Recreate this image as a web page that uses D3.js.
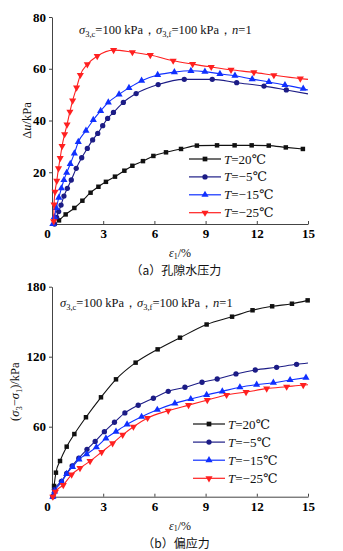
<!DOCTYPE html>
<html>
<head>
<meta charset="utf-8">
<script src="https://cdn.jsdelivr.net/npm/d3@7"></script>
<style>
  body { margin: 0; background: #fff; }
  svg { display: block; }
  .axis path, .axis line { stroke: #444; stroke-width: 1; }
</style>
</head>
<body>
<svg id="chart" width="343" height="551"></svg>
<script>
// temperatures shown in both panels
const temps = ["20", "−5", "−15", "−25"];
const strainTicks = [0, 3, 6, 9, 12, 15];
const duTicks = [20, 40, 60, 80];
const devTicks = [60, 120, 180];

// (a) pore water pressure Δu vs axial strain, [ε1 %, kPa]
const du20 = [[0.41,1.4],[0.8,3.7],[1.31,6.2],[1.78,9.0],[2.26,12.1],[2.72,14.4],[3.16,16.3],[3.69,18.3],
  [4.24,20.6],[4.71,22.5],[5.33,24.3],[5.94,26.3],[6.68,27.7],[7.56,29.0],[8.49,30.3],[9.67,30.4],
  [10.7,30.4],[11.7,30.4],[12.7,30.3],[13.7,29.6],[14.7,29.0]];
const duM5 = [[0.15,0],[0.27,2.6],[0.39,4.8],[0.53,7.3],[0.7,10.8],[0.9,13.8],[1.13,17.0],[1.42,21.5],
  [1.74,25.6],[2.07,29.2],[2.38,32.5],[2.68,35.0],[2.97,38.0],[3.26,40.8],[3.6,43.1],[4.18,47.0],
  [4.93,50.4],[6.22,53.9],[7.75,55.9],[9.39,55.9],[10.82,54.6],[12.42,53.3],[13.73,51.8],[15,50.3]];
const duM15 = [[0.05,0],[0.14,2.7],[0.25,6.2],[0.4,10.2],[0.55,13.8],[0.7,17.0],[0.86,19.8],[1.07,23.2],
  [1.31,27.3],[1.54,31.7],[1.99,36.1],[2.42,40.2],[2.85,43.7],[3.3,47.0],[3.93,50.1],[4.51,52.6],
  [5.25,55.4],[6.19,57.6],[7.17,58.7],[8.14,59.2],[8.96,58.9],[9.84,58.0],[10.72,57.3],[11.73,56.0],
  [12.71,54.9],[13.65,53.7],[14.72,52.3],[15,51.8]];
const duM25 = [[0.1,1],[0.12,7.5],[0.18,12.4],[0.28,16.7],[0.38,21.5],[0.48,25.5],[0.59,30.1],[0.74,34.7],
  [0.88,38.4],[1.05,43.4],[1.21,47.7],[1.44,52.7],[1.66,57.6],[2.07,61.7],[2.65,64.9],[3.61,67.2],
  [4.71,66.4],[5.76,65.3],[7.1,63.1],[8.24,61.8],[9.33,60.7],[10.49,59.6],[11.83,58.6],[13.0,57.5],
  [14.55,56.2],[15,55.9]];

// (b) deviator stress (σ3−σ1) vs axial strain, [ε1 %, kPa]
const dev20 = [[0.05,0],[0.12,9.2],[0.23,20.6],[0.47,30.6],[0.86,42.9],[1.31,53.7],[1.99,68.1],[2.87,85.2],
  [3.75,100.6],[4.9,114.9],[6.19,126.3],[7.5,136.3],[9.06,147.6],[10.55,154.3],[11.75,159.8],
  [12.9,163.2],[14.06,165.4],[14.98,168.3]];
const devM5 = [[0.05,0],[0.14,6.3],[0.55,13.2],[0.86,20.0],[1.18,26.5],[1.57,33.0],[2.05,40.6],[2.53,47.4],
  [3.07,55.7],[3.66,63.8],[4.27,71.8],[5.05,78.4],[5.94,84.4],[6.81,90.3],[7.79,93.8],[8.79,98.1],
  [9.68,100.9],[10.78,105.2],[11.91,108.6],[13.16,110.9],[14.33,113.5],[15,114.6]];
const devM15 = [[0.05,0],[0.15,4.5],[0.57,12.5],[0.86,19.5],[1.2,25.5],[1.58,32.0],[2.03,36.5],[2.6,42.5],
  [3.16,50.0],[3.75,55.8],[4.4,62.0],[5.25,68.5],[6.17,74.5],[7.2,80.0],[8.13,83.7],[9.06,87.2],
  [9.98,90.3],[11.01,93.8],[11.99,96.0],[12.97,97.7],[13.95,100.0],[14.88,102.0]];
const devM25 = [[0.05,0],[0.2,4.3],[0.66,10.0],[1.15,19.0],[1.64,24.5],[2.23,30.5],[2.91,38.3],[3.55,45.7],
  [4.14,53.0],[4.77,60.0],[5.6,67.5],[6.81,73.7],[8.0,78.5],[9.1,82.8],[10.23,87.2],[11.37,89.7],
  [12.58,92.6],[13.75,94.3],[14.72,95.7],[15,96.0]];

const colors = ["#111111", "#1c1c86", "#1030ff", "#ff2020"];
const symbols = [d3.symbolSquare, d3.symbolCircle, d3.symbolTriangle, d3.symbolTriangle];
const flips = [0, 0, 0, 180];
const serif = "'Liberation Serif', 'Times New Roman', 'DejaVu Serif', serif";

const svg = d3.select("#chart");

function drawPanel(opts) {
    const x = d3.scaleLinear().domain([0, 15]).range([52, 308]);
    const y = d3.scaleLinear().domain([0, opts.yMax]).range([opts.bottom, opts.top]);
    const g = svg.append("g");

    // axes: inward ticks on x, outward on y
    const xAxis = g.append("g")
        .attr("class", "axis")
        .attr("transform", `translate(0,${opts.bottom})`)
        .call(d3.axisBottom(x).tickValues(strainTicks).tickSize(-3).tickSizeOuter(0).tickPadding(5));
    xAxis.selectAll(".tick text").attr("dx", d => d === 0 ? -5 : 0);
    xAxis.selectAll(".tick").filter(d => d === 0).select("line").remove();

    const yAxis = g.append("g")
        .attr("class", "axis")
        .attr("transform", "translate(52,0)")
        .call(d3.axisLeft(y).tickValues(opts.yTicks).tickSize(3).tickSizeOuter(0).tickPadding(3));

    [xAxis, yAxis].forEach(a => a
        .attr("font-family", serif)
        .attr("font-size", 13)
        .attr("font-weight", "bold"));

    const line = d3.line()
        .x(d => x(d[0]))
        .y(d => y(d[1]))
        .curve(d3.curveMonotoneX);

    opts.series.forEach((s, i) => {
        g.append("path")
            .datum(s)
            .attr("fill", "none")
            .attr("stroke", colors[i])
            .attr("stroke-width", 1.1)
            .attr("d", line);

        // last point at ε1=15 is the curve end, no marker there
        g.selectAll(null)
            .data(s.filter(d => d[0] < 15))
            .enter().append("path")
            .attr("d", d3.symbol().type(symbols[i]).size(i === 0 ? 20 : 22))
            .attr("transform", d => `translate(${x(d[0])},${y(d[1])}) rotate(${flips[i]})`)
            .attr("fill", colors[i]);
    });

    // test conditions
    const cond = g.append("text")
        .attr("font-family", serif).attr("font-size", 12.5).attr("fill", "#111")
        .attr("x", opts.condX).attr("y", opts.condY);
    cond.append("tspan").attr("font-style", "italic").text("σ");
    cond.append("tspan").attr("font-size", 8.5).attr("dy", 3).text("3,c");
    cond.append("tspan").attr("dy", -3).text("=100 kPa，");
    cond.append("tspan").attr("font-style", "italic").text("σ");
    cond.append("tspan").attr("font-size", 8.5).attr("dy", 3).text("3,f");
    cond.append("tspan").attr("dy", -3).text("=100 kPa，");
    cond.append("tspan").attr("font-style", "italic").text("n");
    cond.append("tspan").text("=1");

    // legend
    const legend = g.append("g")
        .attr("transform", `translate(${opts.legX},${opts.legY})`);
    temps.forEach((t, i) => {
        const row = legend.append("g").attr("transform", `translate(0,${i * opts.legStep})`);
        row.append("line")
            .attr("x1", 0).attr("x2", 32)
            .attr("stroke", colors[i]).attr("stroke-width", 1.2);
        row.append("path")
            .attr("d", d3.symbol().type(symbols[i]).size(22))
            .attr("transform", `translate(16,0) rotate(${flips[i]})`)
            .attr("fill", colors[i]);
        const txt = row.append("text")
            .attr("font-family", serif).attr("font-size", 13).attr("fill", "#111")
            .attr("x", 35).attr("y", 4.5);
        txt.append("tspan").attr("font-style", "italic").text("T");
        txt.append("tspan").text(`=${t}℃`);
    });

    // axis titles
    const xl = g.append("text")
        .attr("font-family", serif).attr("font-size", 12).attr("fill", "#111")
        .attr("x", 180).attr("y", opts.bottom + 33)
        .attr("text-anchor", "middle");
    xl.append("tspan").attr("font-style", "italic").text("ε");
    xl.append("tspan").attr("font-size", 8).attr("dy", 1.5).text("1");
    xl.append("tspan").attr("dy", -1.5).text("/%");

    const yl = g.append("text")
        .attr("font-family", serif).attr("font-size", 12.5).attr("fill", "#111")
        .attr("transform", `translate(${opts.yLabelX},${(opts.top + opts.bottom) / 2}) rotate(-90)`)
        .attr("text-anchor", "middle");
    opts.yLabel(yl);

    g.append("text")
        .attr("font-family", "'Noto Sans CJK SC', sans-serif").attr("font-size", 12).attr("fill", "#111")
        .attr("x", 176).attr("y", opts.bottom + 51)
        .attr("text-anchor", "middle")
        .text(opts.caption);
}

drawPanel({
    yMax: 80, top: 17, bottom: 224, yTicks: duTicks,
    series: [du20, duM5, duM15, duM25],
    condX: 79, condY: 34,
    legX: 189, legY: 159, legStep: 17.9,
    yLabelX: 31,
    yLabel: t => {
        t.append("tspan").text("Δ");
        t.append("tspan").attr("font-style", "italic").text("u");
        t.append("tspan").text("/kPa");
    },
    caption: "（a）孔隙水压力"
});

drawPanel({
    yMax: 180, top: 286.7, bottom: 496.7, yTicks: devTicks,
    series: [dev20, devM5, devM15, devM25],
    condX: 60, condY: 307,
    legX: 193, legY: 424, legStep: 18.1,
    yLabelX: 19,
    yLabel: t => {
        t.append("tspan").text("(");
        t.append("tspan").attr("font-style", "italic").text("σ");
        t.append("tspan").attr("font-size", 8.5).attr("dy", 3).text("3");
        t.append("tspan").attr("dy", -3).text("−");
        t.append("tspan").attr("font-style", "italic").text("σ");
        t.append("tspan").attr("font-size", 8.5).attr("dy", 3).text("1");
        t.append("tspan").attr("dy", -3).text(")/kPa");
    },
    caption: "（b）偏应力"
});
</script>
</body>
</html>
